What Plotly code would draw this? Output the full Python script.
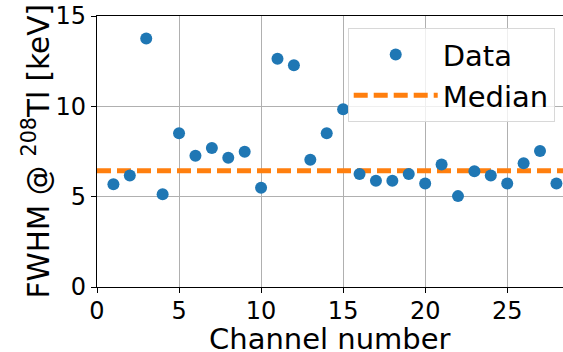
import plotly.graph_objects as go

channels = list(range(1, 29))
fwhm = [5.69, 6.17, 13.76, 5.14, 8.51, 7.26, 7.70, 7.15, 7.48, 5.49,
        12.64, 12.27, 7.04, 8.51, 9.84, 6.25, 5.88, 5.88, 6.25, 5.73,
        6.78, 5.03, 6.41, 6.17, 5.73, 6.85, 7.53, 5.73]
median_value = 6.43
x_range = [0, 28.4]
y_range = [0, 15]

font = "DejaVu Sans"
fig = go.Figure()
fig.add_trace(go.Scatter(
    x=x_range, y=[median_value, median_value], mode="lines", name="Median",
    line=dict(color="#ff7f0e", width=5, dash="14px,6px"), showlegend=True,
))
fig.add_trace(go.Scatter(
    x=channels, y=fwhm, mode="markers", name="Data", cliponaxis=False,
    marker=dict(color="#1f77b4", size=12, line=dict(width=0)),
))

axis_common = dict(
    showgrid=True, gridcolor="#b0b0b0", gridwidth=1,
    showline=True, linecolor="black", linewidth=1.2,
    ticks="outside", ticklen=5, tickcolor="black",
    tickfont=dict(family=font, size=24, color="black"),
    zeroline=False, automargin=False, ticklabeloverflow="allow",
)
fig.update_layout(
    width=563, height=352,
    margin=dict(l=97, r=0, t=16, b=65),
    paper_bgcolor="white", plot_bgcolor="white",
    font=dict(family=font, color="black"),
    xaxis=dict(range=x_range, tickvals=[0, 5, 10, 15, 20, 25], mirror=True,
               ticklabelstandoff=-3, **axis_common),
    yaxis=dict(range=y_range, tickvals=[0, 5, 10, 15], mirror=False, **axis_common),
    legend=dict(x=0.538, y=0.955, xanchor="left", yanchor="top",
                bgcolor="rgba(255,255,255,0.8)", bordercolor="#d8d8d8", borderwidth=1,
                font=dict(family=font, size=29, color="black"),
                traceorder="reversed", itemwidth=84),
    annotations=[
        dict(text="Channel number", xref="paper", yref="paper", x=0.5, y=0,
             xanchor="center", yanchor="middle", yshift=-52, showarrow=False,
             font=dict(family=font, size=29, color="black")),
        dict(text="FWHM @ <sup>208</sup>Tl [keV]", xref="paper", yref="paper",
             x=0, y=0.5, xanchor="center", yanchor="middle", xshift=-61,
             textangle=-90, showarrow=False,
             font=dict(family=font, size=29.5, color="black")),
    ],
)
fig.write_html("out.html", config={"displayModeBar": False},
               post_script="document.body.style.margin='0';document.body.style.overflow='hidden';")
